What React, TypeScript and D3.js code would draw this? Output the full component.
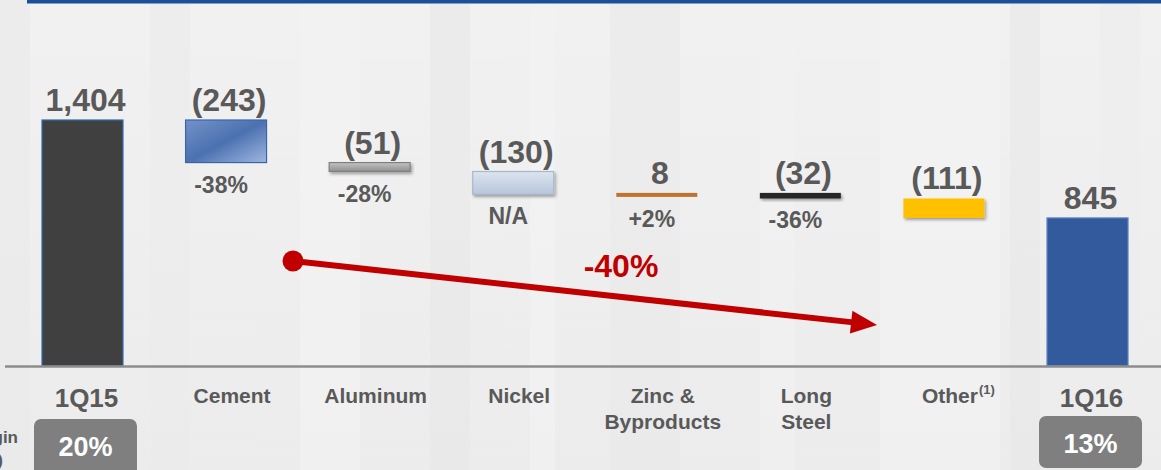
import React from "react";
import * as d3 from "d3";

const categories = ["1Q15", "Cement", "Aluminum", "Nickel", "Zinc & Byproducts", "Long Steel", "Other", "1Q16"];
const labelLines = [["1Q15"], ["Cement"], ["Aluminum"], ["Nickel"], ["Zinc &", "Byproducts"], ["Long", "Steel"], ["Other"], ["1Q16"]];
const footnoteMarks = ["", "", "", "", "", "", "(1)", ""];
const values = [1404, -243, -51, -130, 8, -32, -111, 845];
const kinds = ["total", "delta", "delta", "delta", "delta", "delta", "delta", "total"];
const changeLabels = ["", "-38%", "-28%", "N/A", "+2%", "-36%", "", ""];
const fills = ["#404040", "url(#gCement)", "url(#gAlu)", "url(#gNickel)", "#C0722E", "#262626", "#FFC000", "#325A9C"];
const strokes = ["#2E6BB0", "#3A66A8", "#7F7F7F", "#A8B8CC", "none", "none", "none", "#5A80C0"];
const shadows = [false, false, true, true, false, true, true, false];
const marginCats = ["1Q15", "1Q16"];
const marginValues = ["20%", "13%"];
const totalChange = "-40%";

const W = 1161;
const H = 470;
const TEXT = "#595959";
const FONT = "Arial, 'Liberation Sans', Helvetica, sans-serif";

export default function App() {
  const x = d3.scaleBand<string>().domain(categories).range([42, 1128]).paddingInner(0.436).paddingOuter(0);
  const y = d3.scaleLinear().domain([0, 1404]).range([366, 120]);

  let running = 0;
  const bars = categories.map((c, i) => {
    let start: number, end: number;
    if (kinds[i] === "total") {
      start = 0;
      end = values[i];
      running = values[i];
    } else {
      start = running;
      end = running + values[i];
      running = end;
    }
    const top = y(Math.max(start, end));
    const bot = y(Math.min(start, end));
    const h = Math.max(bot - top, 4);
    return { c, i, top, bot: top + h, h, v: values[i] };
  });

  const fmt = d3.format(",");
  const valText = (v: number, i: number) =>
    kinds[i] === "total" ? fmt(v) : v < 0 ? `(${fmt(-v)})` : fmt(v);

  // annotation arrow
  const ax0 = 293, ay0 = 261, ax1 = 877, ay1 = 325;
  const ang = Math.atan2(ay1 - ay0, ax1 - ax0);
  const headL = 26, headW = 11.5;
  const bx = ax1 - headL * Math.cos(ang), by = ay1 - headL * Math.sin(ang);
  const px = -Math.sin(ang), py = Math.cos(ang);
  const head = `${ax1},${ay1} ${bx + headW * px},${by + headW * py} ${bx - headW * px},${by - headW * py}`;

  const stripes = [
    [0, 30, "#e9e9e9"], [150, 40, "#ebebeb"], [300, 60, "#f3f3f3"], [430, 40, "#e8e8e8"],
    [530, 25, "#f4f4f4"], [610, 70, "#e9e9e9"], [760, 35, "#f2f2f2"], [880, 120, "#f3f3f3"],
    [1010, 30, "#e7e7e7"], [1100, 40, "#ececec"],
  ] as [number, number, string][];

  return (
    <div style={{ position: "absolute", left: 0, top: 0 }}>
      <svg width={W} height={H} style={{ display: "block", fontFamily: FONT }}>
        <defs>
          <linearGradient id="bg" x1="0" y1="0" x2="0" y2="1">
            <stop offset="0" stopColor="#f1f1f1" />
            <stop offset="1" stopColor="#ececec" />
          </linearGradient>
          <linearGradient id="gCement" x1="0" y1="0" x2="1" y2="1">
            <stop offset="0" stopColor="#7393C8" />
            <stop offset="0.5" stopColor="#4C71B0" />
            <stop offset="1" stopColor="#9FB7E2" />
          </linearGradient>
          <linearGradient id="gAlu" x1="0" y1="0" x2="0" y2="1">
            <stop offset="0" stopColor="#C4C4C4" />
            <stop offset="1" stopColor="#8E8E8E" />
          </linearGradient>
          <linearGradient id="gNickel" x1="0" y1="0" x2="0" y2="1">
            <stop offset="0" stopColor="#DCE4EF" />
            <stop offset="1" stopColor="#B7C6DB" />
          </linearGradient>
          <filter id="shadow" x="-10%" y="-40%" width="125%" height="200%">
            <feDropShadow dx="1.5" dy="2" stdDeviation="1.5" floodColor="#000" floodOpacity="0.35" />
          </filter>
        </defs>

        <rect x={0} y={0} width={W} height={H} fill="url(#bg)" />
        {stripes.map(([sx, sw, col], k) => (
          <rect key={k} x={sx} y={0} width={sw} height={H} fill={col} opacity={0.6} />
        ))}
        <rect x={27} y={0} width={W - 27} height={3.5} fill="#1B4F99" />

        {/* bars */}
        {bars.map((b) => (
          <rect
            key={b.c}
            x={x(b.c)}
            y={b.top}
            width={x.bandwidth()}
            height={b.h}
            fill={fills[b.i]}
            stroke={strokes[b.i]}
            strokeWidth={strokes[b.i] === "none" ? 0 : 1.2}
            filter={shadows[b.i] ? "url(#shadow)" : undefined}
          />
        ))}

        {/* baseline */}
        <line x1={5} x2={W} y1={366.5} y2={366.5} stroke="#8C8C8C" strokeWidth={2.5} />

        {/* value labels */}
        {bars.map((b) => (
          <text
            key={"v" + b.c}
            x={(x(b.c) as number) + x.bandwidth() / 2 + 3}
            y={b.top - 9}
            textAnchor="middle"
            fontSize={32}
            fontWeight="bold"
            fill={TEXT}
          >
            {valText(b.v, b.i)}
          </text>
        ))}

        {/* change labels */}
        {bars.map((b) =>
          changeLabels[b.i] ? (
            <text
              key={"p" + b.c}
              x={(x(b.c) as number) + x.bandwidth() / 2 - 5}
              y={b.bot + 30}
              textAnchor="middle"
              fontSize={23}
              fontWeight="bold"
              fill={TEXT}
            >
              {changeLabels[b.i]}
            </text>
          ) : null
        )}

        {/* category labels */}
        {bars.map((b) => {
          const isTotal = kinds[b.i] === "total";
          const cx = (x(b.c) as number) + x.bandwidth() / 2 + (isTotal ? 4 : 6);
          const lines = labelLines[b.i];
          const mainW = lines[0].length * 11.2;
          return (
            <g key={"c" + b.c}>
              <text
                x={cx}
                y={isTotal ? 407 : 403}
                textAnchor="middle"
                fontSize={isTotal ? 26 : 21}
                fontWeight="bold"
                fill={TEXT}
              >
                {lines.map((ln, k) => (
                  <tspan key={k} x={cx} dy={k === 0 ? 0 : 26}>
                    {ln}
                  </tspan>
                ))}
              </text>
              {footnoteMarks[b.i] ? (
                <text x={cx + mainW / 2 + 1} y={394} fontSize={13} fontWeight="bold" fill={TEXT}>
                  {footnoteMarks[b.i]}
                </text>
              ) : null}
            </g>
          );
        })}

        {/* margin boxes */}
        {marginCats.map((c, k) => {
          const cx = (x(c) as number) + x.bandwidth() / 2 + 3;
          return (
            <g key={"m" + c}>
              <rect x={cx - 51.5} y={k === 0 ? 419 : 416} width={103} height={k === 0 ? 60 : 52} rx={7} fill="#7F7F7F" />
              <text x={cx} y={k === 0 ? 456 : 453} textAnchor="middle" fontSize={27} fontWeight="bold" fill="#FFFFFF">
                {marginValues[k]}
              </text>
            </g>
          );
        })}

        {/* left caption, cut off at the edge as in the source slide */}
        <text x={18} y={443} textAnchor="end" fontSize={17} fontWeight="bold" fill={TEXT}>
          EBITDA Margin
        </text>
        <text x={3} y={466} textAnchor="end" fontSize={17} fontWeight="bold" fill={TEXT}>
          (%)
        </text>

        {/* arrow annotation */}
        <line x1={ax0} y1={ay0} x2={bx + 2 * Math.cos(ang)} y2={by + 2 * Math.sin(ang)} stroke="#C00000" strokeWidth={6} />
        <polygon points={head} fill="#C00000" />
        <ellipse cx={ax0} cy={ay0} rx={10.5} ry={10.5} fill="#C00000" />
        <text x={621} y={277} textAnchor="middle" fontSize={32} fontWeight="bold" fill="#C00000">
          {totalChange}
        </text>
      </svg>
    </div>
  );
}
